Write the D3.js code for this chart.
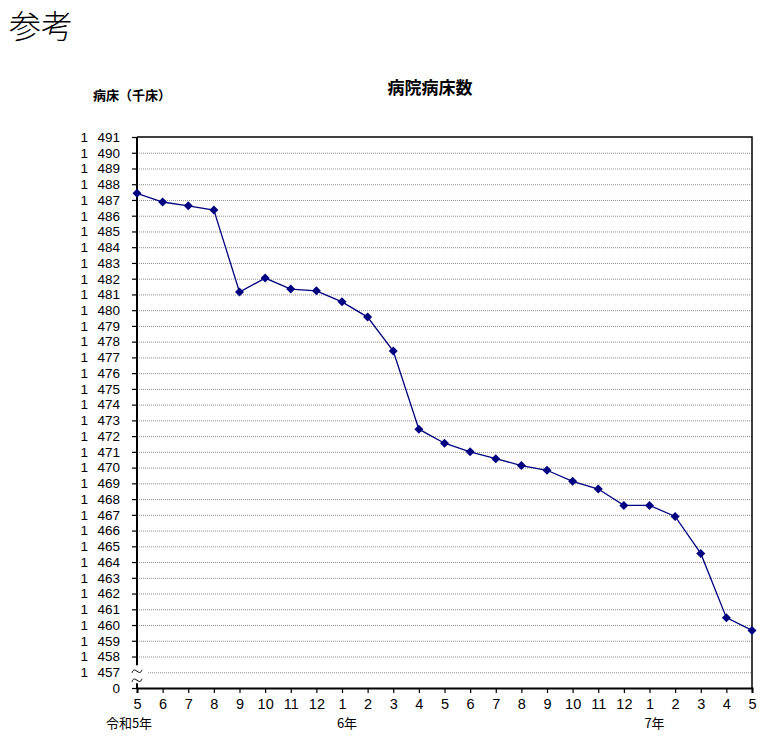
<!DOCTYPE html>
<html>
<head>
<meta charset="utf-8">
<script src="https://cdn.jsdelivr.net/npm/d3@7"></script>
<style>
  html, body { margin: 0; padding: 0; background: #fff; }
  svg text { font-family: "Noto Sans CJK JP", sans-serif; fill: #000; }
</style>
</head>
<body>
<div id="chart"></div>
<script>
// 病院病床数 (千床), 令和5年5月 〜 令和7年5月
const months = [5, 6, 7, 8, 9, 10, 11, 12, 1, 2, 3, 4, 5, 6, 7, 8, 9, 10, 11, 12, 1, 2, 3, 4, 5];
const beds = [
  1487.42, 1486.87, 1486.63, 1486.36, 1481.15, 1482.04, 1481.34, 1481.23,
  1480.53, 1479.56, 1477.40, 1472.44, 1471.55, 1471.00, 1470.57, 1470.13,
  1469.83, 1469.13, 1468.64, 1467.60, 1467.60, 1466.90, 1464.55, 1460.47, 1459.66
];
const yearLabels = ['令和5年', '6年', '7年'];
const yearIndex = [0, 8, 20];
const yTicks = d3.range(1457, 1492);   // 1 457 … 1 491
const yBase = 1456;                      // drawn as "0" below the axis break

const width = 776, height = 737;
const plot = { left: 137, right: 752, top: 137, bottom: 688 };
const numFont = '"Liberation Sans", Arial, sans-serif';

const svg = d3.select('#chart').append('svg')
  .attr('width', width)
  .attr('height', height);

const x = d3.scaleLinear().domain([0, months.length - 1]).range([plot.left, plot.right]);
const y = d3.scaleLinear().domain([yBase, 1491]).range([plot.bottom, plot.top]);

// titles
svg.append('text')
  .attr('x', 9).attr('y', 38)
  .style('font-size', '32px')
  .style('font-weight', '300')
  .text('参考');
svg.append('text')
  .attr('x', 430).attr('y', 94)
  .attr('text-anchor', 'middle')
  .style('font-size', '17px')
  .style('font-weight', 'bold')
  .text('病院病床数');
svg.append('text')
  .attr('x', 93).attr('y', 100)
  .attr('textLength', 78)
  .attr('lengthAdjust', 'spacing')
  .style('font-size', '13px')
  .style('font-weight', 'bold')
  .text('病床（千床）');

// grid lines
svg.append('g')
  .selectAll('line')
  .data(yTicks.filter(d => d < 1491))
  .join('line')
  .attr('x1', d => d === 1457 ? plot.left + 11 : plot.left)
  .attr('x2', plot.right)
  .attr('y1', d => y(d) + 0.5)
  .attr('y2', d => y(d) + 0.5)
  .attr('stroke', '#8c8c8c')
  .attr('stroke-width', 1)
  .attr('stroke-dasharray', '1,1');

// frame top + right
svg.append('path')
  .attr('d', `M${plot.left},${plot.top}H${plot.right}V${plot.bottom}`)
  .attr('fill', 'none')
  .attr('stroke', '#000')
  .attr('stroke-width', 1.5);

// y axis (ticks + labels; the line is drawn separately because of the break)
const yAxis = d3.axisLeft(y)
  .tickValues(yTicks.concat([yBase]))
  .tickSize(5)
  .tickFormat(d => d === yBase ? '0' : '1\u2002\u2009' + (d - 1000));
const gy = svg.append('g')
  .attr('transform', `translate(${plot.left},0)`)
  .call(yAxis);
gy.select('.domain').remove();
gy.selectAll('.tick line').attr('stroke', '#000').attr('stroke-width', 1.2)
  .attr('display', d => d === 1457 ? 'none' : null);
gy.selectAll('.tick text')
  .attr('x', -17)
  .style('font-size', '13.5px')
  .style('font-family', numFont);

svg.append('line')
  .attr('x1', plot.left).attr('x2', plot.left)
  .attr('y1', plot.top).attr('y2', y(1457) - 7)
  .attr('stroke', '#000').attr('stroke-width', 2);
svg.append('line')
  .attr('x1', plot.left).attr('x2', plot.left)
  .attr('y1', y(1457) + 11).attr('y2', plot.bottom)
  .attr('stroke', '#000').attr('stroke-width', 2);

// break marks (two small waves)
const wave = d3.line().curve(d3.curveBasis);
[0, 1].forEach(i => {
  const cy = y(1457) - 1 + i * 9;
  svg.append('path')
    .attr('d', wave([[plot.left - 5, cy + 1.5], [plot.left - 3, cy - 3], [plot.left + 3, cy + 3], [plot.left + 5, cy - 1.5]]))
    .attr('fill', 'none')
    .attr('stroke', '#000')
    .attr('stroke-width', 1);
});

// x axis
const xAxis = d3.axisBottom(x)
  .tickValues(d3.range(months.length))
  .tickSize(5)
  .tickFormat(i => months[i]);
const gx = svg.append('g')
  .attr('transform', `translate(0,${plot.bottom})`)
  .call(xAxis);
gx.select('.domain').attr('stroke', '#000').attr('stroke-width', 2);
gx.selectAll('.tick line').attr('stroke', '#000').attr('stroke-width', 1.2);
gx.selectAll('.tick text')
  .attr('y', 11)
  .style('font-size', '14.5px')
  .style('font-family', numFont);

svg.append('g')
  .selectAll('text')
  .data(yearLabels)
  .join('text')
  .attr('x', (d, i) => x(yearIndex[i]) + (i === 0 ? -8 : 5))
  .attr('y', 728)
  .attr('text-anchor', 'middle')
  .style('font-size', '13px')
  .text(d => d);

// series
const line = d3.line()
  .x((d, i) => x(i))
  .y(d => y(d));
svg.append('path')
  .datum(beds)
  .attr('d', line)
  .attr('fill', 'none')
  .attr('stroke', '#000080')
  .attr('stroke-width', 1.3);

svg.append('g')
  .selectAll('path')
  .data(beds)
  .join('path')
  .attr('transform', (d, i) => `translate(${x(i)},${y(d)})`)
  .attr('d', 'M0,-4.5L4.5,0L0,4.5L-4.5,0Z')
  .attr('fill', '#000080');
</script>
</body>
</html>
